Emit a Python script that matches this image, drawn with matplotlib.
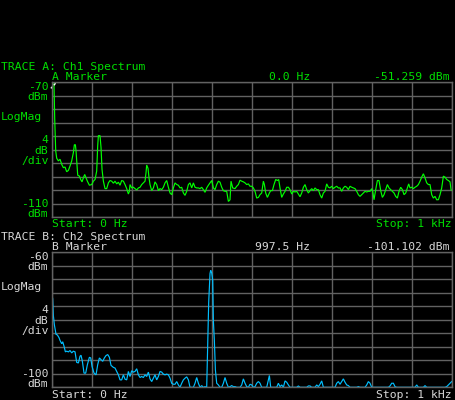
import matplotlib
matplotlib.use("Agg")
import matplotlib.pyplot as plt
import numpy as np

# ---------------- data ----------------
freq_a = [0, 2.5, 5, 7.5, 10, 12.5, 16.7, 20.8, 25, 29.2, 33.3, 37.5, 41.7, 45.8, 50, 54.2, 56.7, 59.2, 60.8,
          62.5, 65, 69.2, 72.5, 75.8, 79.2, 82.5, 85.8, 89.2, 94.2, 100, 104.2, 108.3, 112.5, 115, 116.7, 120.8,
          123.3, 125.8, 129.2, 133.3, 137.5, 141.7, 145.8, 150, 154.2, 158.3, 162.5, 166.7, 170.8, 175, 179.2,
          183.3, 187.5, 191.7, 194.2, 195.8, 200, 204.2, 208.3, 212.5, 216.7, 220.8, 225, 229.2, 233.3, 235.8,
          237.5, 240.8, 243.3, 245.8, 250, 254.2, 258.3, 262.5, 266.7, 270.8, 275, 279.2, 283.3, 287.5, 291.7,
          295.8, 300, 304.2, 308.3, 312.5, 316.7, 320.8, 325, 329.2, 333.3, 337.5, 341.7, 345.8, 350, 354.2,
          358.3, 362.5, 366.7, 370.8, 375, 379.2, 383.3, 387.5, 391.7, 395.8, 400, 404.2, 408.3, 412.5, 416.7,
          420.8, 425, 429.2, 433.3, 437.5, 441.7, 445.8, 448.3, 452.5, 458.3, 462.5, 466.7, 470.8, 475, 479.2,
          483.3, 487.5, 491.7, 495.8, 500, 504.2, 508.3, 512.5, 516.7, 520.8, 525, 529.2, 531.7, 535, 539.2,
          544.2, 547.5, 551.7, 555.8, 560, 564.2, 567.5, 570.8, 575, 579.2, 583.3, 587.5, 591.7, 595.8, 600,
          604.2, 608.3, 612.5, 616.7, 620.8, 625, 629.2, 633.3, 637.5, 641.7, 645.8, 650, 654.2, 658.3, 662.5,
          666.7, 670.8, 675, 679.2, 683.3, 687.5, 691.7, 695.8, 700, 704.2, 708.3, 712.5, 716.7, 720.8, 725,
          729.2, 733.3, 737.5, 741.7, 745.8, 750, 754.2, 758.3, 762.5, 766.7, 770.8, 775, 779.2, 783.3, 787.5,
          791.7, 795.8, 800, 802.5, 805.8, 810, 814.2, 818.3, 822.5, 826.7, 830.8, 835, 839.2, 843.3, 847.5,
          851.7, 855.8, 860, 864.2, 868.3, 872.5, 876.7, 880.8, 885, 889.2, 892.5, 895.8, 900, 904.2, 908.3,
          912.5, 916.7, 920.8, 925, 929.2, 933.3, 937.5, 941.7, 945.8, 950, 954.2, 958.3, 962.5, 966.7, 970.8,
          975, 979.2, 983.3, 987.5, 991.7, 995.8, 998.3, 1000]
dbm_a = [-51.3, -58, -66, -80.8, -90.3, -92.5, -93.3, -92.8, -94.3, -95.3, -95.1, -96.5, -96.1, -94.8, -93.3,
         -90.8, -88.5, -88.5, -90.3, -93.3, -97.5, -97.8, -98.8, -99.5, -98.3, -97.3, -98.3, -99.3, -100.5,
         -100.3, -99.3, -98.8, -96.3, -88.8, -85.8, -85.8, -89.3, -95.8, -99.3, -101.5, -101.5, -99.8, -99.1,
         -99.3, -99.9, -99.3, -100.1, -99.6, -100.5, -99.1, -99.3, -100.3, -101.5, -103.1, -102.3, -100.3,
         -101.3, -101.1, -101.5, -101.9, -101.3, -101.1, -100.3, -99.8, -99.3, -96.8, -94.5, -95.5, -98.3,
         -100.3, -102.1, -101.3, -99.5, -100.3, -102.1, -101.5, -101.8, -101.1, -99.8, -99.1, -101.1, -102.8,
         -103.3, -101.3, -99.8, -100.3, -100.5, -101.3, -101.1, -102.8, -103.5, -102.3, -100.3, -99.8, -101.3,
         -99.8, -101.1, -101.3, -101.3, -101.5, -101.1, -101.8, -102.6, -101.3, -100.5, -99.8, -99.1, -101.3,
         -101.8, -100.3, -99.3, -99.6, -101.1, -102.1, -102.3, -102.3, -105.3, -104.8, -99.3, -101.3, -101.5,
         -100.8, -100.3, -99.0, -99.3, -99.5, -99.8, -100.3, -100.1, -100.8, -100.8, -101.3, -102.3, -104.3,
         -104.1, -103.3, -102.8, -99.3, -100.3, -102.8, -104.1, -102.8, -102.1, -102.1, -100.3, -98.8, -99.1,
         -98.8, -101.3, -104.1, -103.1, -102.3, -101.1, -101.1, -101.8, -103.1, -102.3, -102.5, -102.3, -103.1,
         -103.9, -102.8, -101.1, -100.3, -101.8, -102.8, -102.1, -101.5, -102.1, -101.3, -101.8, -101.8, -103.3,
         -104.3, -102.8, -102.3, -100.1, -101.1, -101.3, -100.8, -101.5, -101.1, -100.8, -101.3, -101.3, -102.3,
         -101.3, -100.8, -101.1, -101.8, -100.8, -101.1, -101.3, -101.5, -102.3, -103.3, -103.8, -103.3, -102.8,
         -102.3, -102.5, -102.3, -102.3, -101.5, -102.3, -104.8, -101.8, -99.1, -99.1, -102.1, -104.1, -103.3,
         -101.8, -100.3, -101.3, -101.8, -102.3, -102.8, -103.8, -104.3, -102.3, -101.1, -101.8, -103.3, -102.8,
         -101.3, -100.1, -101.3, -101.1, -101.5, -101.1, -100.8, -100.3, -99.3, -98.1, -97.1, -98.3, -99.8,
         -100.3, -100.3, -103.3, -104.3, -103.8, -104.8, -104.8, -103.3, -101.3, -97.8, -98.1, -98.8, -99.1,
         -99.5, -101.8, -102.0]

freq_b = [0, 2.5, 4.2, 6.7, 10.8, 14.2, 18.3, 20.8, 25, 27.5, 30.8, 34.2, 37.5, 41.7, 45.8, 50, 54.2, 58.3,
          62.5, 66.7, 70.8, 73.3, 76.7, 80.8, 85, 89.2, 94.2, 97.5, 100.8, 105.8, 110.8, 115, 119.2, 123.3,
          127.5, 131.7, 135.8, 140, 144.2, 148.3, 154.2, 158.3, 162.5, 166.7, 170.8, 175, 179.2, 183.3, 187.5,
          191.7, 195.8, 200, 204.2, 208.3, 212.5, 216.7, 220.8, 225, 229.2, 233.3, 237.5, 241.7, 245.8, 250,
          254.2, 258.3, 262.5, 266.7, 270.8, 275, 279.2, 283.3, 287.5, 291.7, 295.8, 300, 304.2, 308.3, 312.5,
          316.7, 320.8, 325, 329.2, 333.3, 337.5, 341.7, 345.8, 354.2, 358.3, 362.5, 366.7, 370.8, 375, 379.2,
          383.3, 387.5, 389.2, 392.5, 395.8, 397.5, 400, 402.5, 404.2, 406.7, 409.2, 412.5, 416.7, 420.8, 425,
          429.2, 433.3, 437.5, 441.7, 445.8, 450, 454.2, 458.3, 462.5, 470.8, 475, 479.2, 483.3, 487.5, 491.7,
          495.8, 500, 504.2, 508.3, 512.5, 516.7, 520.8, 525, 537.5, 541.7, 544.2, 547.5, 562.5, 566.7, 570.8,
          575, 579.2, 583.3, 587.5, 591.7, 595.8, 612.5, 616.7, 620.8, 637.5, 641.7, 645.8, 650, 654.2, 658.3,
          662.5, 666.7, 670.8, 675, 679.2, 708.3, 712.5, 716.7, 720.8, 725, 729.2, 733.3, 737.5, 741.7, 745.8,
          762.5, 766.7, 770.8, 783.3, 787.5, 791.7, 795.8, 800, 841.7, 845.8, 850, 854.2, 858.3, 862.5, 908.3,
          912.5, 916.7, 929.2, 933.3, 937.5, 983.3, 987.5, 991.7, 995.8, 1000]
dbm_b = [-72.1, -73.8, -78.8, -81.5, -84.3, -84.5, -85.3, -86.1, -87.1, -86.5, -87.8, -89.5, -89.3, -89.5,
         -89.1, -89.8, -89.3, -89.5, -92.6, -92.8, -90.8, -90.5, -92.3, -95.8, -95.8, -93.3, -91.1, -91.3,
         -93.8, -95.8, -96.3, -93.3, -91.3, -91.8, -92.3, -91.3, -90.6, -90.3, -91.1, -93.5, -94.1, -94.3,
         -95.3, -96.3, -97.8, -97.8, -96.3, -97.6, -97.8, -95.3, -96.8, -95.1, -95.5, -95.3, -94.5, -96.3,
         -97.1, -96.8, -97.1, -96.3, -96.8, -95.5, -97.5, -98.3, -97.3, -96.3, -97.8, -96.8, -95.3, -95.5,
         -96.1, -96.3, -96.1, -96.3, -97.3, -98.8, -99.1, -99.1, -98.3, -99.3, -100, -98.8, -97.8, -97.3,
         -96.9, -97.8, -100, -100, -98.8, -97.1, -98.8, -100, -99.5, -100, -99.8, -100, -91.3, -74.8, -66.3,
         -65.3, -66.1, -68.3, -80.3, -86.3, -94.8, -98.8, -99.3, -100, -100, -98.8, -97.1, -98.8, -100, -99.8,
         -99.5, -99.8, -99.8, -100, -100, -99.3, -97.5, -98.8, -99.8, -100, -99.1, -99.3, -100, -99.8,
         -98.8, -98.3, -98.8, -100, -100, -97.8, -96.5, -100, -100, -98.8, -99.8, -99.3, -100, -98.1, -98.5,
         -99.3, -100, -100, -99.6, -100, -100, -99.6, -99.6, -100, -100, -100, -99.3, -99.8, -99.1, -98.1,
         -100, -100, -98.8, -98.3, -99.1, -98.3, -97.5, -98.5, -99.3, -99.5, -100, -100, -99.8, -100, -100,
         -99.3, -98.3, -98.8, -100, -100, -99.6, -98.8, -98.8, -99.8, -100, -100, -99.3, -100, -100, -99.5,
         -100, -100, -99.8, -99.3, -98.8, -98.3]

# text content
trace_titles = ["TRACE A: Ch1 Spectrum", "TRACE B: Ch2 Spectrum"]
marker_names = ["A Marker", "B Marker"]
marker_freqs = ["0.0 Hz", "997.5 Hz"]
marker_levels = ["-51.259 dBm", "-101.102 dBm"]
top_refs = ["-70", "-60"]
bottom_refs = ["-110", "-100"]
scale_labels = ["LogMag", "4", "dB", "/div"]
start_label = "Start: 0 Hz"
stop_label = "Stop: 1 kHz"

# ---------------- figure ----------------
W, H = 456, 400
fig = plt.figure(figsize=(W / 100, H / 100), dpi=100, facecolor="black")
FONT = "DejaVu Sans Mono"
FS = 8.2
GRID = "#626262"


def ftext(x, y, s, color, ha="left"):
    fig.text(x / W, 1 - y / H, s, color=color, ha=ha, va="baseline",
             fontsize=FS, family=FONT)


def make_axes(top_px, ylo, yhi):
    ax = fig.add_axes([51.7 / W, 1 - (top_px + 135) / H, 400 / W, 135 / H])
    ax.set_facecolor("black")
    ax.set_xlim(0, 1000)
    ax.set_ylim(ylo, yhi)
    ax.set_xticks(np.arange(0, 1001, 100))
    ax.set_yticks(np.arange(ylo, yhi + 0.1, 4))
    ax.tick_params(length=0, labelbottom=False, labelleft=False)
    ax.grid(True, color=GRID, linewidth=1.0)
    for sp in ax.spines.values():
        sp.set_color(GRID)
        sp.set_linewidth(1.0)
    return ax


panels = [
    dict(top=82.3, ylo=-110, yhi=-70, f=freq_a, d=dbm_a, line="#00ff00", text="#00e000", dy=0),
    dict(top=252.3, ylo=-100, yhi=-60, f=freq_b, d=dbm_b, line="#00bfff", text="#d8d8d8", dy=170.3),
]

for i, p in enumerate(panels):
    ax = make_axes(p["top"], p["ylo"], p["yhi"])
    ax.plot(p["f"], p["d"], color=p["line"], linewidth=0.85, solid_joinstyle="miter")
    c = p["text"]
    dy = p["dy"]
    ftext(1, 69.5 + dy, trace_titles[i], c)
    ftext(52, 79.5 + dy, marker_names[i], c)
    ftext(310, 79.5 + dy, marker_freqs[i], c, ha="right")
    ftext(450, 79.5 + dy, marker_levels[i], c, ha="right")
    ftext(48.5, 89.5 + dy, top_refs[i], c, ha="right")
    ftext(48.5, 100 + dy, "dBm", c, ha="right")
    ftext(1, 120 + dy, scale_labels[0], c)
    ftext(48.5, 143 + dy, scale_labels[1], c, ha="right")
    ftext(48.5, 153.5 + dy, scale_labels[2], c, ha="right")
    ftext(48.5, 164 + dy, scale_labels[3], c, ha="right")
    ftext(48.5, 207 + dy, bottom_refs[i], c, ha="right")
    ftext(48.5, 216.7 + dy, "dBm", c, ha="right")
    ftext(52, 227.3 + dy, start_label, c)
    ftext(451.5, 227.3 + dy, stop_label, c, ha="right")
    if i == 0:
        # marker A indicator at the top-left corner
        ax.plot([-0.002, 0.012], [0.955, 1.0], transform=ax.transAxes, color="white",
                linewidth=1.0, linestyle=(0, (2, 1)), clip_on=False)

fig.savefig("out.png", dpi=100, facecolor="black")
